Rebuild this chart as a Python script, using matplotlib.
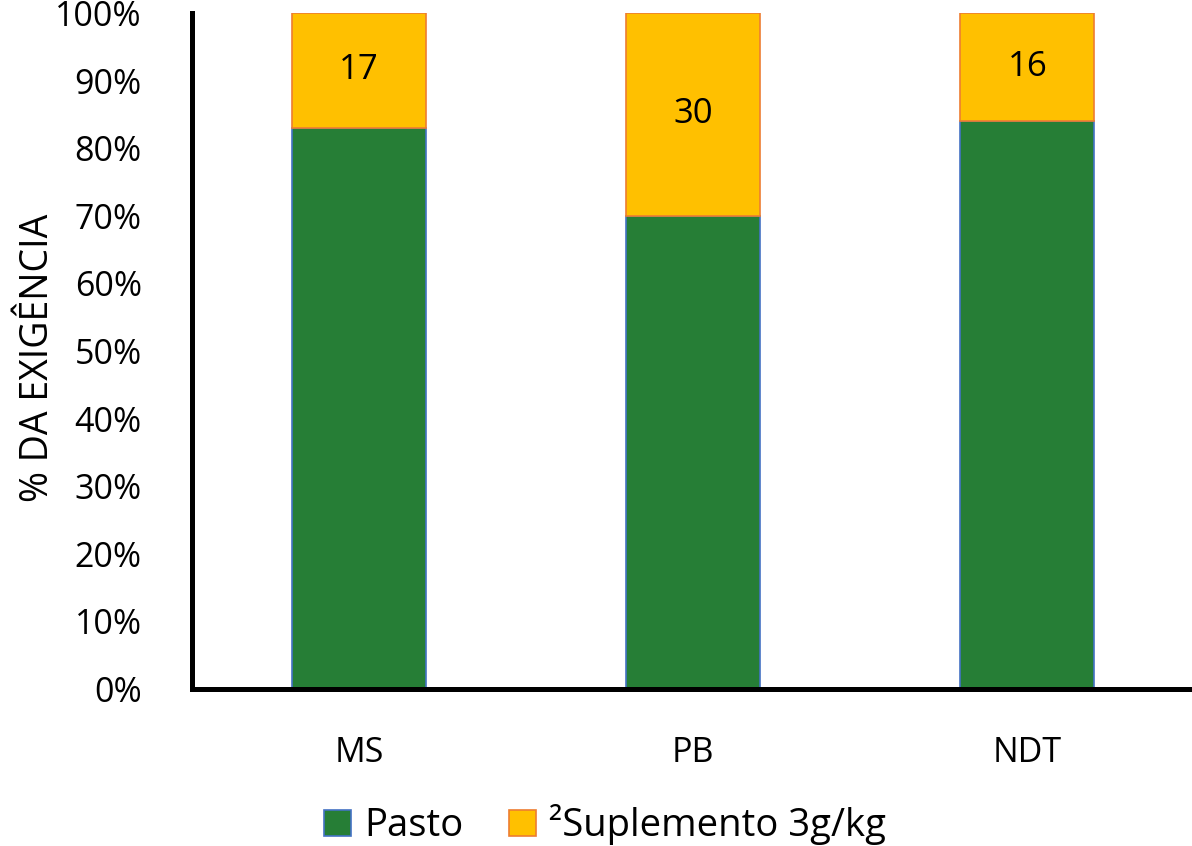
import matplotlib
matplotlib.use("Agg")
import matplotlib.pyplot as plt
from matplotlib.ticker import PercentFormatter

categories = ["MS", "PB", "NDT"]
pasto = [83, 70, 84]
suplemento = [17, 30, 16]
series_names = ["Pasto", "\u00b2Suplemento 3g/kg"]

GREEN = "#267E36"
YELLOW = "#FFC000"
BLUE_EDGE = "#4472C4"
ORANGE_EDGE = "#ED7D31"

plt.rcParams["font.family"] = ["Open Sans", "DejaVu Sans"]

fig = plt.figure(figsize=(11.92, 8.46), dpi=100)
ax = fig.add_axes([0.161, 0.1856, 0.841, 0.799])

x = list(range(len(categories)))
w = 0.40
ax.bar(x, pasto, w, color=GREEN, edgecolor=BLUE_EDGE, linewidth=1.2,
       label=series_names[0], zorder=2)
ax.bar(x, suplemento, w, bottom=pasto, color=YELLOW,
       edgecolor=ORANGE_EDGE, linewidth=1.2, label=series_names[1], zorder=2)

for xi, b, s in zip(x, pasto, suplemento):
    ax.text(xi, b + s / 2, str(s), ha="center", va="center", fontsize=25,
            color="black", zorder=3)

ax.set_xlim(-0.5, 2.5)
ax.set_ylim(0, 100)
ax.set_yticks(range(0, 101, 10))
ax.yaxis.set_major_formatter(PercentFormatter(decimals=0))
ax.set_xticks(x)
ax.set_xticklabels(categories)
ax.tick_params(axis="both", length=0, labelsize=24.5)
ax.tick_params(axis="y", pad=36)
ax.tick_params(axis="x", pad=34)
ax.set_ylabel("% DA EXIGÊNCIA", fontsize=27, labelpad=0)
ax.yaxis.set_label_coords(-0.135, 0.49)

for s in ("top", "right"):
    ax.spines[s].set_visible(False)
for s in ("left", "bottom"):
    ax.spines[s].set_linewidth(3.6)
    ax.spines[s].set_color("black")

ax.legend(loc="upper center", bbox_to_anchor=(0.412, -0.12), ncol=2,
          frameon=False, fontsize=27.5, handlelength=0.7, handleheight=0.7,
          handletextpad=0.35, columnspacing=1.2)

fig.savefig("out.png", dpi=100, facecolor="white")
